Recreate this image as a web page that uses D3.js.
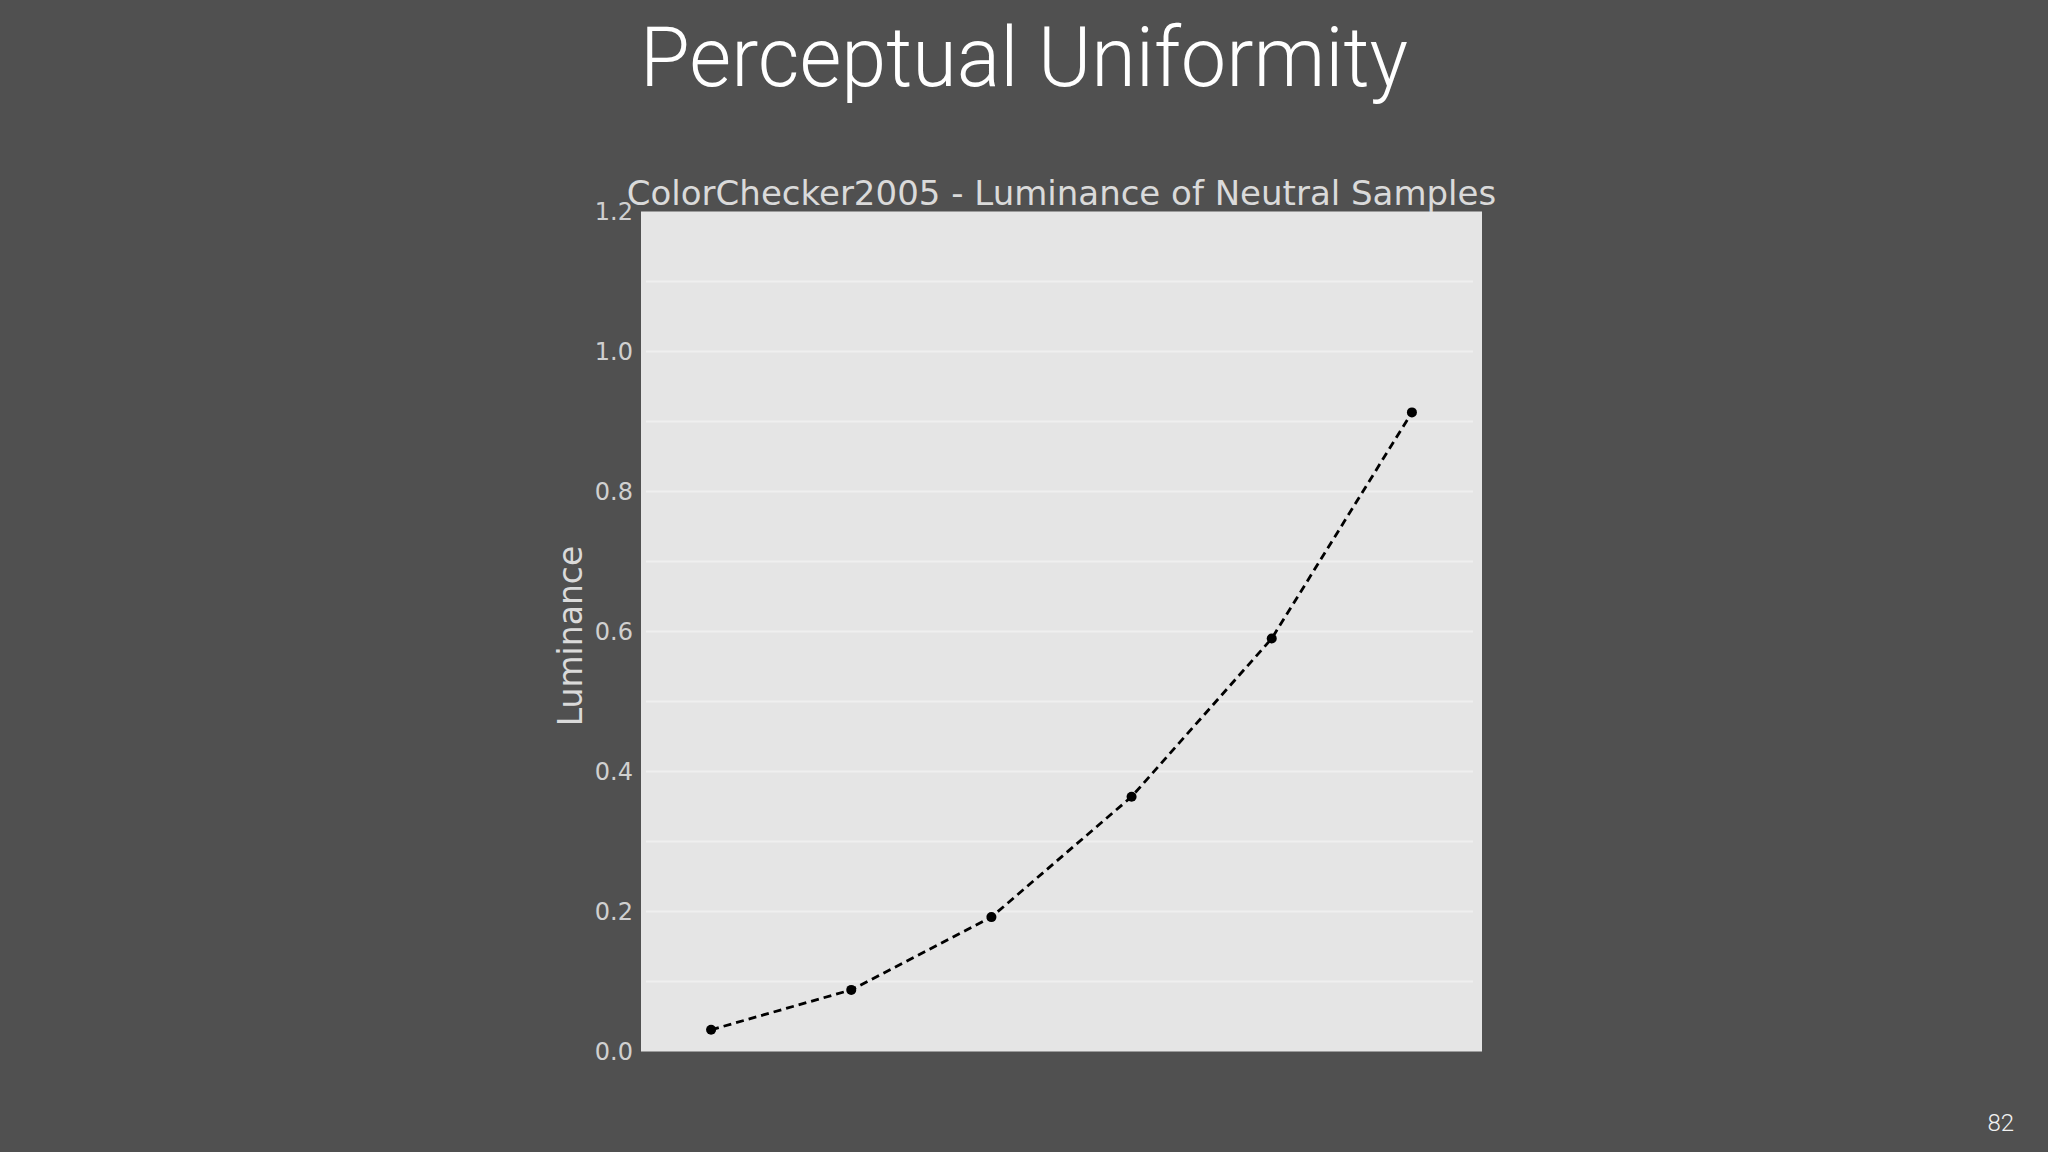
<!DOCTYPE html>
<html>
<head>
<meta charset="utf-8">
<script src="https://cdn.jsdelivr.net/npm/d3@7"></script>
<style>
  html, body { margin: 0; padding: 0; background: #505050; overflow: hidden; }
</style>
</head>
<body>
<script>
var w = 2048;
var h = 1152;

// neutral patches of the ColorChecker 2005, darkest to lightest
var samples = ["black 2", "neutral 3.5", "neutral 5", "neutral 6.5", "neutral 8", "white 9.5"];
var luminance = [0.031, 0.088, 0.192, 0.364, 0.590, 0.913];
var yTicks = [0.0, 0.2, 0.4, 0.6, 0.8, 1.0, 1.2];
var yGrid = [0.1, 0.2, 0.3, 0.4, 0.5, 0.6, 0.7, 0.8, 0.9, 1.0, 1.1];

var plotLeft = 641, plotRight = 1482, plotTop = 211.5, plotBottom = 1051.5;

var xScale = d3.scaleLinear()
				.domain([-0.5, samples.length - 0.5])
				.range([plotLeft, plotRight]);

var yScale = d3.scaleLinear()
				.domain([0, 1.2])
				.range([plotBottom, plotTop]);

var svg = d3.select("body")
			.append("svg")
			.attr("width", w)
			.attr("height", h);

svg.append("rect")
	.attr("width", w)
	.attr("height", h)
	.attr("fill", "#505050");

// slide title
svg.append("text")
	.attr("x", 1024)
	.attr("y", 86)
	.attr("text-anchor", "middle")
	.attr("font-family", "Roboto, 'Liberation Sans', sans-serif")
	.attr("font-weight", 300)
	.attr("font-size", 83)
	.attr("textLength", 768)
	.attr("lengthAdjust", "spacingAndGlyphs")
	.attr("fill", "#ffffff")
	.text("Perceptual Uniformity");

// plot background
svg.append("rect")
	.attr("x", plotLeft)
	.attr("y", plotTop)
	.attr("width", plotRight - plotLeft)
	.attr("height", plotBottom - plotTop)
	.attr("fill", "#e5e5e5");

// grid
svg.append("g")
	.selectAll("line")
	.data(yGrid)
	.enter()
	.append("line")
	.attr("x1", plotLeft + 5)
	.attr("x2", plotRight - 9)
	.attr("y1", function(d) { return yScale(d); })
	.attr("y2", function(d) { return yScale(d); })
	.attr("stroke", "#efefef")
	.attr("stroke-width", 2);

// y axis, labels only
var yAxis = d3.axisLeft(yScale)
				.tickValues(yTicks)
				.tickFormat(d3.format(".1f"))
				.tickSize(0)
				.tickPadding(8);

var gy = svg.append("g")
			.attr("transform", "translate(" + plotLeft + ",0)")
			.call(yAxis);

gy.select(".domain").remove();
gy.selectAll("text")
	.attr("font-family", "'DejaVu Sans', sans-serif")
	.attr("font-size", 24)
	.attr("fill", "#d0d0d0");

// chart title and axis label
svg.append("text")
	.attr("x", (plotLeft + plotRight) / 2)
	.attr("y", 205)
	.attr("text-anchor", "middle")
	.attr("font-family", "'DejaVu Sans', sans-serif")
	.attr("font-size", 34)
	.attr("fill", "#dadada")
	.text("ColorChecker2005 - Luminance of Neutral Samples");

svg.append("text")
	.attr("transform", "translate(582,636) rotate(-90)")
	.attr("text-anchor", "middle")
	.attr("font-family", "'DejaVu Sans', sans-serif")
	.attr("font-size", 33)
	.attr("fill", "#dadada")
	.text("Luminance");

// dashed line + points
var line = d3.line()
				.x(function(d, i) { return xScale(i); })
				.y(function(d) { return yScale(d); });

svg.append("path")
	.datum(luminance)
	.attr("d", line)
	.attr("fill", "none")
	.attr("stroke", "#000")
	.attr("stroke-width", 2.8)
	.attr("stroke-dasharray", "8,5");

svg.selectAll("circle")
	.data(luminance)
	.enter()
	.append("circle")
	.attr("cx", function(d, i) { return xScale(i); })
	.attr("cy", function(d) { return yScale(d); })
	.attr("r", 5)
	.attr("fill", "#000");

// page number
svg.append("text")
	.attr("x", 2014)
	.attr("y", 1131)
	.attr("text-anchor", "end")
	.attr("font-family", "Roboto, 'Liberation Sans', sans-serif")
	.attr("font-weight", 300)
	.attr("font-size", 24)
	.attr("fill", "#f2f2f2")
	.text("82");
</script>
</body>
</html>
